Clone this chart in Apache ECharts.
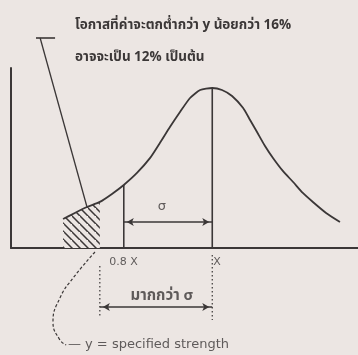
<!DOCTYPE html>
<html>
<head>
<meta charset="utf-8">
<script src="https://cdn.jsdelivr.net/npm/echarts@6/dist/echarts.min.js"></script>
<style>
  html, body { margin: 0; padding: 0; background: #ece6e3; }
  #chart { width: 358px; height: 355px; }
</style>
</head>
<body>
<div id="chart"></div>
<script>
// Strength distribution curve (x: strength units, y: relative frequency, peak = 1)
const curveX = [15, 18.4, 21.9, 25.6, 29.1, 32.5, 36.3, 40.1, 42.9, 45.8, 48.7, 51.6, 54.5, 58,
                60.8, 63.7, 66.9, 68.9, 70.9, 73.2, 75.5, 78.4, 81.3, 84.1, 87, 90.8, 94.8];
const curveY = [0.181, 0.219, 0.256, 0.288, 0.338, 0.394, 0.469, 0.563, 0.656, 0.756, 0.85, 0.9375, 0.9875, 1.0,
                0.9875, 0.95, 0.875, 0.8, 0.725, 0.6375, 0.5625, 0.48, 0.4125, 0.344, 0.2875, 0.219, 0.1625];

// Key strengths
const specifiedStrength = 25.6;   // y
const lowStrength = 32.5;         // 0.8 X
const meanStrength = 58;          // X
const hatchCount = 4;             // points of the curve up to y

// Texts
const titleLines = ['โอกาสที่ค่าจะตกต่ำกว่า y น้อยกว่า 16%', 'อาจจะเป็น 12% เป็นต้น'];
const tickLabels = ['0.8 X', 'X'];
const sigmaLabel = 'σ';
const moreThanSigmaLabel = 'มากกว่า σ';
const noteLabel = '— y = specified strength';

const ink = '#3b3737';
const paper = '#ece6e3';
const thaiFont = '"Noto Sans Thai", "Noto Sans", sans-serif';
const latinFont = '"DejaVu Sans", sans-serif';

// Diagonal hatch pattern
function hatchPattern() {
  const s = 8;
  const c = document.createElement('canvas');
  c.width = s; c.height = s;
  const g = c.getContext('2d');
  g.fillStyle = paper;
  g.fillRect(0, 0, s, s);
  g.strokeStyle = ink;
  g.lineWidth = 1.5;
  g.beginPath();
  g.moveTo(-1, -1); g.lineTo(s + 1, s + 1);
  g.moveTo(-s - 1, -1); g.lineTo(1, s + 1);
  g.moveTo(s - 1, -s - 1); g.lineTo(2 * s + 1, s + 1);
  g.stroke();
  return c;
}

const curve = curveX.map((x, i) => [x, curveY[i]]);
const hatch = curve.slice(0, hatchCount);
const lowTop = curveY[curveX.indexOf(lowStrength)];
const meanTop = curveY[curveX.indexOf(meanStrength)];

function seg(points, opts) {
  return Object.assign({
    type: 'line', data: points, symbol: 'none', clip: false, silent: true,
    lineStyle: { color: ink, width: 1.6 }
  }, opts || {});
}

// Horizontal dimension line with arrowheads at both ends
function dimension(x0, x1, y) {
  return {
    type: 'line', clip: false, silent: true, symbolSize: [6, 7],
    itemStyle: { color: ink },
    lineStyle: { color: ink, width: 1.6 },
    data: [
      { value: [x0, y], symbol: 'arrow', symbolRotate: 90, symbolOffset: [3, 0] },
      { value: [x1, y], symbol: 'arrow', symbolRotate: -90, symbolOffset: [-3, 0] }
    ]
  };
}

const dotted = { color: ink, width: 1.2, type: [1.5, 2.5] };

const chart = echarts.init(document.getElementById('chart'));
chart.setOption({
  backgroundColor: paper,
  animation: false,
  title: [
    { text: titleLines[0], left: 70, top: 14, textStyle: { fontSize: 13.5, fontWeight: 'bold', color: ink, fontFamily: thaiFont } },
    { text: titleLines[1], left: 70, top: 46, textStyle: { fontSize: 13.5, fontWeight: 'bold', color: ink, fontFamily: thaiFont } }
  ],
  grid: { left: 11, top: 68, right: 0, bottom: 107 },
  xAxis: {
    type: 'value', min: 0, max: 100,
    axisLine: { show: true, lineStyle: { color: ink, width: 2 } },
    axisTick: { show: false }, axisLabel: { show: false }, splitLine: { show: false }
  },
  yAxis: {
    type: 'value', min: 0, max: 1.125,
    axisLine: { show: true, lineStyle: { color: ink, width: 2 } },
    axisTick: { show: false }, axisLabel: { show: false }, splitLine: { show: false }
  },
  series: [
    // hatched area below the specified strength
    seg(hatch, { smooth: 0.2, lineStyle: { width: 0 }, areaStyle: { color: { image: hatchPattern(), repeat: 'repeat' }, opacity: 1 } }),
    // distribution curve
    seg(curve, { smooth: 0.2, lineStyle: { color: ink, width: 1.8 } }),
    // 0.8 X and X ordinates
    seg([[lowStrength, 0], [lowStrength, lowTop]]),
    seg([[meanStrength, 0], [meanStrength, meanTop]]),
    // dotted extensions below the axis
    seg([[specifiedStrength, -0.1125], [specifiedStrength, -0.431]], { lineStyle: dotted }),
    seg([[meanStrength, -0.044], [meanStrength, -0.45]], { lineStyle: dotted }),
    // leader from the note above to the hatched area
    seg([[7.2, 1.3125], [12.7, 1.3125]], { lineStyle: { color: ink, width: 1.6 } }),
    seg([[8.4, 1.3125], [21.9, 0.256]], { lineStyle: { color: ink, width: 1.3 } }),
    // curved dashed leader to the note below
    seg([[24.2, -0.025], [17.9, -0.1875], [14.1, -0.3125], [12.1, -0.4625], [14.1, -0.575], [15.9, -0.606]],
      { smooth: 0.5, lineStyle: { color: ink, width: 1.2, type: [3, 2] } }),
    // dimension arrows: σ and "more than σ"
    dimension(lowStrength, meanStrength, 0.1625),
    dimension(specifiedStrength, meanStrength, -0.369),
    // text labels
    {
      type: 'scatter', symbolSize: 0, clip: false, silent: true,
      label: { show: true, color: ink, fontFamily: latinFont, fontSize: 11, formatter: p => p.data.name },
      data: [
        { name: tickLabels[0], value: [32.4, -0.0875] },
        { name: tickLabels[1], value: [59.4, -0.0875] },
        { name: sigmaLabel, value: [43.5, 0.256], label: { fontSize: 13 } },
        { name: moreThanSigmaLabel, value: [43.5, -0.306], label: { fontWeight: 'bold', fontSize: 15, fontFamily: thaiFont } },
        { name: noteLabel, value: [16.4, -0.606], label: { align: 'left', fontSize: 13 } }
      ]
    }
  ]
});
</script>
</body>
</html>
